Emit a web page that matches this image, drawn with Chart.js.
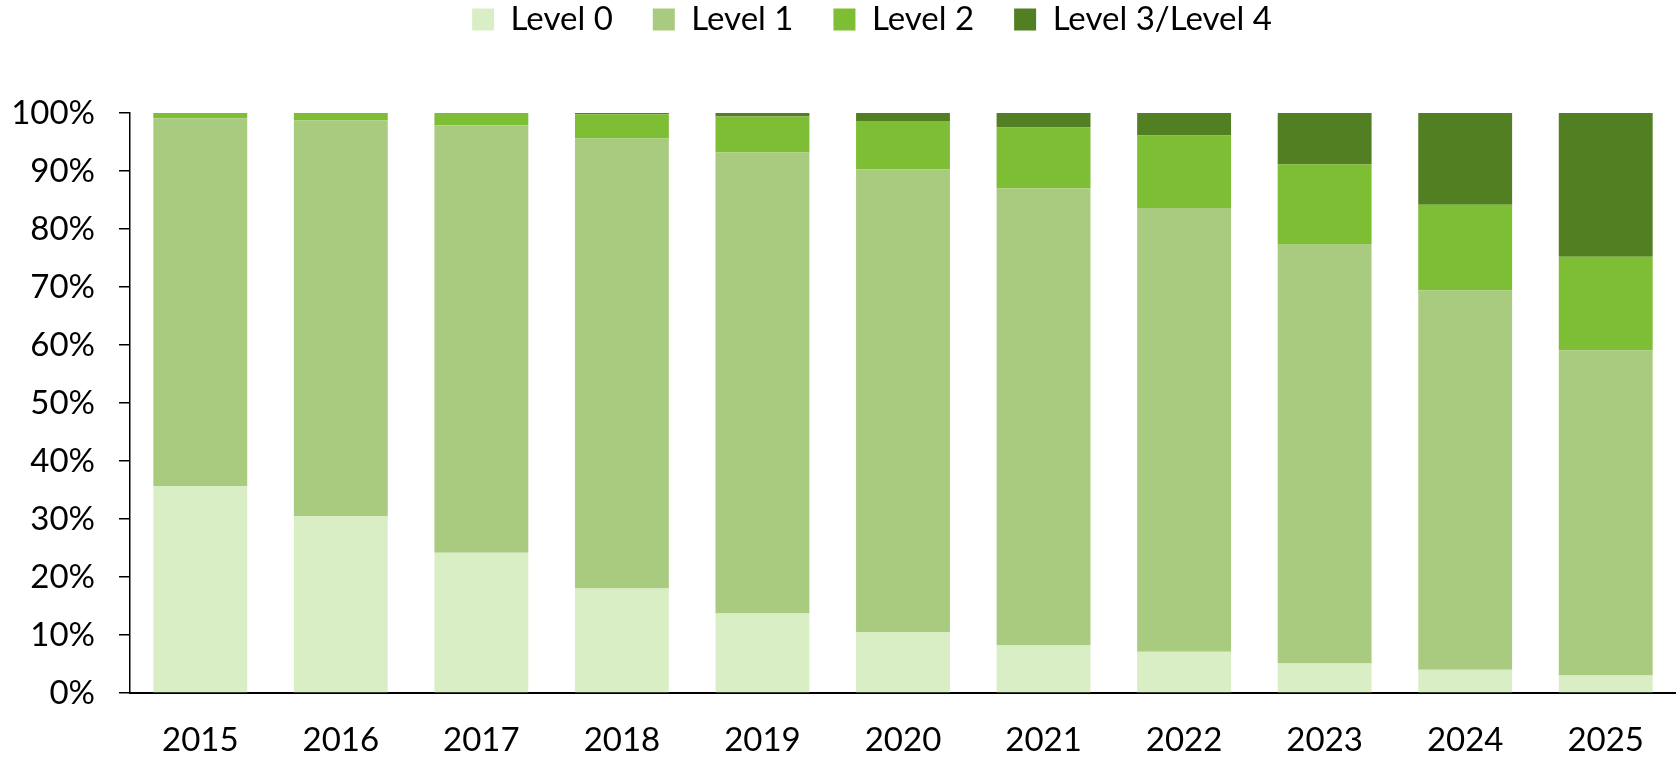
<!DOCTYPE html>
<html>
<head>
<meta charset="utf-8">
<script src="https://cdn.jsdelivr.net/npm/chart.js@4/dist/chart.umd.min.js"></script>
<style>
  html, body { margin: 0; padding: 0; background: #fff; }
  #wrap { width: 1676px; height: 759px; }
</style>
</head>
<body>
<div id="wrap"><canvas id="chart"></canvas></div>
<script>
const years = ['2015', '2016', '2017', '2018', '2019', '2020', '2021', '2022', '2023', '2024', '2025'];
const level0 = [35.7, 30.5, 24.2, 18.0, 13.7, 10.5, 8.2, 7.1, 5.1, 4.0, 3.0];
const level1 = [63.4, 68.2, 73.7, 77.6, 79.5, 79.8, 78.8, 76.5, 72.3, 65.4, 56.1];
const level2 = [0.9, 1.3, 2.1, 4.2, 6.2, 8.3, 10.5, 12.5, 13.7, 14.8, 16.1];
const level34 = [0, 0, 0, 0.2, 0.6, 1.4, 2.5, 3.9, 8.9, 15.8, 24.8];

const font = { family: 'Lato', size: 33 };

// legend height is forced so the plot starts where the original one does,
// and the legend row sits a little right of the canvas centre
const legendSize = {
  id: 'legendSize',
  beforeInit(chart) {
    const fit = chart.legend.fit;
    chart.legend.fit = function () {
      fit.call(this);
      this.height = 150;
    };
  },
  afterLayout(chart) {
    chart.legend.left += 34;
    chart.legend.right += 34;
  },
};

const ctx = document.getElementById('chart').getContext('2d');
new Chart(ctx, {
  type: 'bar',
  data: {
    labels: years,
    datasets: [
      { label: 'Level 0', data: level0, backgroundColor: '#daeec6' },
      { label: 'Level 1', data: level1, backgroundColor: '#a9cb7f' },
      { label: 'Level 2', data: level2, backgroundColor: '#7ebe35' },
      { label: 'Level 3/Level 4', data: level34, backgroundColor: '#527f22' },
    ],
  },
  options: {
    responsive: true,
    maintainAspectRatio: false,
    animation: false,
    layout: { padding: { top: -37, left: 0, right: 0, bottom: 0 } },
    datasets: { bar: { categoryPercentage: 1, barPercentage: 0.668, borderWidth: 0 } },
    plugins: {
      legend: {
        position: 'top',
        labels: { boxWidth: 22, boxHeight: 22, padding: 40, color: '#000', font },
      },
      tooltip: { enabled: false },
    },
    scales: {
      x: {
        stacked: true,
        offset: true,
        grid: { display: false, drawTicks: false },
        border: { display: true, color: '#000', width: 2 },
        ticks: { padding: 28, color: '#000', font },
        afterFit: (s) => { s.height = 66; },
      },
      y: {
        stacked: true,
        min: 0,
        max: 100,
        ticks: { stepSize: 10, padding: 24, color: '#000', font, callback: (v) => v + '%' },
        grid: { drawOnChartArea: false, drawTicks: true, tickLength: 11, color: '#000', lineWidth: 1.5 },
        border: { display: true, color: '#000', width: 1.5 },
        afterFit: (s) => { s.width = 130; },
      },
    },
  },
  plugins: [legendSize],
});
</script>
</body>
</html>
